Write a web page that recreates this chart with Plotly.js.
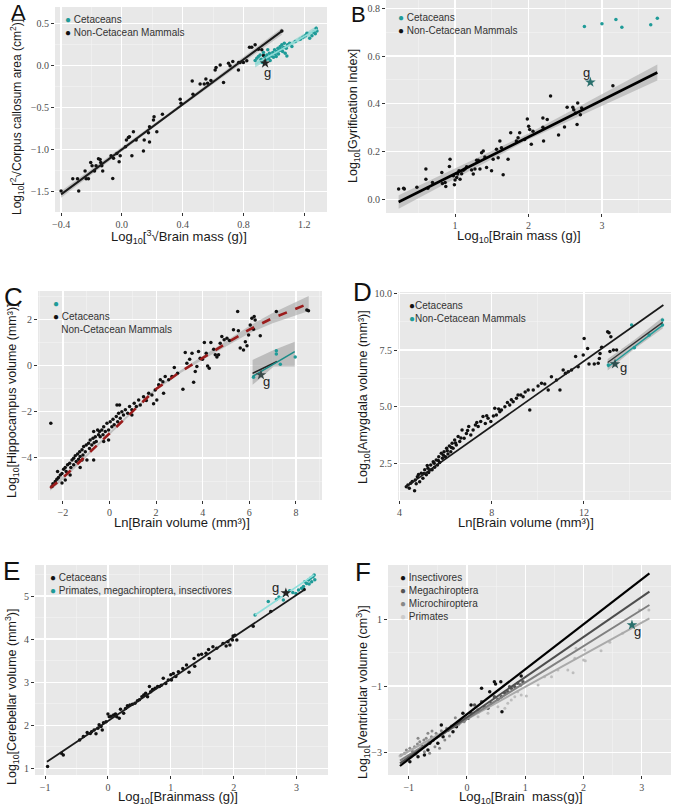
<!DOCTYPE html>
<html>
<head>
<meta charset="utf-8">
<script src="https://cdn.plot.ly/plotly-3.0.1.min.js"></script>
<style>
  html, body { margin: 0; padding: 0; background: #fff; }
  #chart { width: 676px; height: 809px; }
</style>
</head>
<body>
<div id="chart"></div>
<script>
// ---- Panel A: corpus callosum ----
const aNonCet = [[-0.4,-1.49],[-0.323,-1.345],[-0.292,-1.345],[-0.284,-1.49],[-0.242,-1.253],[-0.235,-1.345],[-0.22,-1.345],
  [-0.205,-1.15],[-0.196,-1.19],[-0.18,-1.253],[-0.17,-1.19],[-0.154,-1.106],[-0.139,-1.15],[-0.132,-1.19],[-0.126,-1.253],
  [-0.143,-1.114],[-0.071,-1.07],[-0.06,-1.34],[-0.055,-1.10],[-0.033,-1.043],[-0.018,-1.142],[-0.011,-1.07],[0.024,-0.963],
  [0.03,-0.884],[0.043,-0.852],[0.05,-0.844],[0.066,-1.07],[0.076,-0.784],[0.094,-0.884],[0.142,-1.015],[0.147,-0.884],
  [0.175,-0.796],[0.182,-0.724],[0.182,-0.907],[0.208,-0.645],[0.212,-0.605],[0.23,-0.784],[0.267,-0.577],[0.384,-0.399],
  [0.389,-0.446],[0.463,-0.18],[0.468,-0.339],[0.515,-0.216],[0.542,-0.216],[0.553,-0.156],[0.564,-0.208],[0.586,-0.176],
  [0.614,-0.049],[0.62,-0.021],[0.647,0.011],[0.669,-0.2],[0.702,0.031],[0.712,0.0],[0.73,0.051],[0.767,-0.049],[0.769,0.039],
  [0.778,0.039],[0.8,0.039],[0.822,0.059],[0.84,0.222],[0.855,0.222],[0.877,0.25],[0.899,0.198],[0.921,0.19],[0.932,0.122],
  [0.936,0.063],[1.053,0.413]];
const aCet = [[0.877,0.063],[0.888,0.09],[0.899,0.11],[0.91,0.13],[0.916,0.078],[0.925,0.039],[0.932,0.158],[0.943,0.102],
  [0.949,0.071],[0.954,0.13],[0.96,0.19],[0.965,0.09],[0.971,0.15],[0.976,0.063],[0.982,0.118],[0.993,0.158],[0.998,0.102],
  [1.005,0.19],[1.009,0.142],[1.016,0.11],[1.02,0.17],[1.027,0.21],[1.031,0.142],[1.038,0.182],[1.042,0.23],[1.047,0.198],
  [1.053,0.25],[1.058,0.17],[1.064,0.218],[1.069,0.27],[1.075,0.15],[1.082,0.21],[1.086,0.118],[1.091,0.25],[1.104,0.27],
  [1.119,0.23],[1.141,0.289],[1.174,0.317],[1.192,0.341],[1.207,0.357],[1.218,0.389],[1.236,0.329],[1.251,0.357],
  [1.262,0.4],[1.273,0.381],[1.279,0.448],[1.284,0.413]];
const aStar = [0.943, 0.031];
const aFitX = [-0.4, 1.053], aFitY = [-1.53, 0.413];
const aBandX = [-0.4, 0.3, 1.053], aBandLo = [-1.57, -0.61, 0.37], aBandHi = [-1.49, -0.575, 0.45];
const aCetFitX = [0.877, 1.284], aCetFitY = [0.019, 0.436];
const aCetBandX = [0.877, 1.08, 1.284], aCetBandLo = [-0.02, 0.205, 0.395], aCetBandHi = [0.058, 0.25, 0.478];

// ---- Panel B: gyrification ----
const bNonCet = [[0.232,0.043],[0.30,0.046],[0.309,0.043],[0.48,0.05],[0.603,0.126],[0.603,0.084],[0.63,0.046],[0.693,0.07],
  [0.82,0.112],[0.828,0.066],[0.865,0.07],[0.874,0.053],[0.923,0.137],[0.932,0.167],[0.977,0.098],[0.991,0.06],[1.0,0.08],
  [1.023,0.091],[1.036,0.105],[1.054,0.119],[1.068,0.084],[1.09,0.107],[1.113,0.121],[1.135,0.126],[1.158,0.136],
  [1.226,0.122],[1.248,0.105],[1.271,0.126],[1.294,0.163],[1.316,0.163],[1.339,0.126],[1.361,0.195],[1.384,0.202],
  [1.406,0.177],[1.429,0.133],[1.497,0.119],[1.519,0.167],[1.564,0.209],[1.587,0.174],[1.61,0.244],[1.632,0.216],
  [1.655,0.102],[1.722,0.167],[1.758,0.278],[1.835,0.244],[1.858,0.258],[1.88,0.278],[1.948,0.25],[1.984,0.336],
  [2.002,0.306],[2.016,0.292],[2.038,0.23],[2.061,0.285],[2.196,0.34],[2.196,0.302],[2.205,0.244],[2.255,0.334],
  [2.3,0.433],[2.409,0.269],[2.49,0.303],[2.526,0.385],[2.603,0.385],[2.616,0.375],[2.639,0.361],[2.661,0.313],
  [2.67,0.403],[2.706,0.354],[2.724,0.382],[3.149,0.476]];
const bCet = [[2.761,0.724],[3.0,0.735],[3.19,0.753],[3.271,0.721],[3.664,0.731],[3.754,0.758]];
const bStar = [2.842, 0.49];
const bFitX = [0.232, 3.754], bFitY = [-0.012, 0.531];
const bBandX = [0.232, 2.0, 3.754], bBandLo = [-0.04, 0.25, 0.498], bBandHi = [0.016, 0.275, 0.565];

// ---- Panel C: hippocampus ----
const cNonCet = [[-2.52,-2.5],[-2.47,-5.24],[-2.43,-5.12],[-2.33,-5.02],[-2.26,-4.92],[-2.19,-4.85],[-2.23,-4.59],
  [-2.11,-4.74],[-2.04,-4.67],[-1.97,-4.49],[-1.9,-4.41],[-1.86,-4.59],[-1.8,-4.3],[-1.71,-4.23],[-1.66,-4.41],
  [-1.61,-4.09],[-1.54,-4.01],[-1.54,-4.3],[-1.47,-3.91],[-1.43,-4.16],[-1.37,-3.83],[-1.33,-4.06],[-1.28,-3.73],
  [-1.26,-3.94],[-1.18,-3.65],[-1.14,-3.87],[-1.11,-3.51],[-1.04,-3.73],[-1.0,-3.44],[-0.97,-4.09],[-0.9,-3.37],
  [-0.86,-3.59],[-0.83,-3.22],[-0.76,-3.44],[-0.71,-3.15],[-0.68,-4.09],[-0.66,-3.34],[-0.61,-3.08],[-0.57,-3.29],
  [-0.51,-2.79],[-0.47,-3.0],[-0.43,-2.86],[-0.4,-3.08],[-0.33,-2.79],[-0.28,-3.0],[-0.25,-2.65],[-0.18,-2.86],
  [-0.11,-2.5],[-0.04,-2.79],[0.03,-2.43],[0.1,-2.65],[0.15,-2.33],[0.2,-2.57],[0.29,-2.21],[0.35,-2.43],[0.39,-2.07],
  [0.46,-2.28],[0.53,-2.0],[0.6,-2.14],[0.68,-1.92],[0.78,-2.07],[0.86,-1.78],[0.96,-1.92],[1.06,-1.63],[1.15,-1.78],
  [1.25,-1.49],[1.32,-1.71],[1.46,-1.35],[1.58,-1.52],[1.68,-1.2],[1.82,-1.28],[1.96,-1.06],[2.03,-1.49],[0.32,-1.71],
  [0.43,-1.71],[0.96,-2.14],[-0.68,-2.86],[-1.18,-4.09],[1.89,-1.66],[-0.25,-3.29],[-0.04,-3.22],[-1.26,-4.41],
  [-1.69,-4.74],[-1.9,-4.95],[-2.04,-5.09],
  [2.11,-0.84],[2.18,-0.62],[2.29,-0.7],[2.32,-1.2],[2.39,-0.48],[2.54,-0.62],[2.68,-0.48],
  [2.78,-0.09],[2.92,-0.34],[3.15,-1.03],[3.25,0.56],[3.32,0.1],[3.44,0.27],[3.54,0.53],[3.61,-0.73],[3.68,-0.26],
  [3.75,-0.05],[3.82,0.6],[3.89,0.31],[3.99,0.27],[4.07,0.99],[4.15,0.53],[4.21,-0.02],[4.28,-0.12],[4.35,0.99],
  [4.47,0.7],[4.54,0.46],[4.61,0.36],[4.68,0.46],[4.75,0.96],[4.82,1.25],[4.92,1.11],[5.04,1.18],[5.15,1.08],
  [5.32,1.54],[5.5,2.33],[5.53,1.5],[5.61,0.75],[5.75,0.67],[5.83,1.03],[5.9,0.85],[5.97,1.32],[6.04,1.75],[6.11,2.04],
  [6.18,1.57],[6.21,2.12],[6.25,1.97],[6.47,1.28],[7.16,2.33],[8.47,2.4],[8.54,2.37]];
const cCet = [[6.18,-0.51],[7.16,0.64],[7.16,0.5],[7.33,0.05],[7.97,0.36]];
const cStar = [6.5, -0.41];
const cFitX = [-2.55,-2,-1,0,1,2,3,4,5,6,7,8,8.55];
const cFitY = [-5.3,-4.86,-3.9,-2.94,-1.98,-1.02,-0.3,0.33,0.95,1.55,2.05,2.45,2.68];
const cBandLo = [-5.42,-4.94,-3.95,-2.99,-2.03,-1.07,-0.36,0.25,0.83,1.39,1.83,2.17,2.36];
const cBandHi = [-5.18,-4.78,-3.85,-2.89,-1.93,-0.97,-0.24,0.41,1.07,1.71,2.27,2.73,3.0];
const cCetFitX = [6.14, 7.95], cCetFitY = [-0.48, 0.6];
const cSubFitX = [6.14, 7.19], cSubFitY = [-0.34, 0.17];
const cCetBandX = [6.14, 7.05, 7.95], cCetBandLo = [-0.84, -0.05, -0.05], cCetBandHi = [0.24, 0.67, 1.03];

// ---- Panel D: amygdala ----
const dMain = [[4.29,1.47],[4.36,1.54],[4.48,1.62],[4.65,1.29],[4.68,1.76],[4.77,1.91],[4.87,1.69],[4.94,2.06],[5.01,1.84],
  [5.09,2.21],[5.16,1.99],[5.23,2.28],[5.26,2.09],[5.35,2.43],[5.41,2.21],[5.46,2.57],[5.52,2.32],[5.59,2.65],[5.64,2.43],
  [5.70,2.79],[5.74,2.53],[5.81,2.94],[5.86,2.72],[5.93,3.01],[5.99,2.79],[6.04,3.16],[6.1,2.91],[6.16,3.26],[6.22,3.01],
  [6.28,3.38],[6.32,3.16],[6.39,3.53],[6.46,3.31],[6.54,3.68],[6.61,3.46],[6.71,3.97],[6.8,3.6],[6.9,3.82],[7.0,4.12],
  [7.09,3.75],[7.19,3.97],[7.29,4.19],[7.41,4.12],[7.52,4.34],[7.62,4.56],[7.72,4.26],[7.84,4.49],[7.96,4.34],[8.07,4.59],
  [8.13,4.93],[8.2,4.63],[8.35,4.78],[8.42,4.85],[8.57,5.0],[8.68,5.18],[8.78,5.07],[8.93,5.22],[9.07,5.37],[9.14,5.51],
  [9.26,5.51],[9.36,5.44],[9.58,5.74],[9.65,4.85],[9.8,5.74],[10.01,5.91],[10.16,6.03],[10.3,6.0],[10.45,5.74],
  [10.59,6.32],[10.81,6.18],[10.96,5.74],[11.1,6.62],[11.2,6.47],[11.32,6.54],[11.46,6.62],[11.64,7.21],[11.75,6.76],
  [11.97,7.28],[12.01,8.01],[12.16,7.57],[12.22,6.88],[12.45,6.88],[12.62,6.91],[12.67,7.13],[12.7,7.35],[12.77,7.62],
  [13.03,8.31],[13.09,8.26],[13.13,7.43],[13.17,8.09],[13.28,7.5],[13.42,7.5],
  [4.42,1.4],[4.55,1.7],[4.72,1.6],[4.82,2.0],[5.05,2.05],[5.2,2.4],[5.32,2.2],[5.5,2.5],[5.68,2.62],[5.9,2.85],
  [6.07,3.05],[6.25,3.2],[6.43,3.4],[6.66,3.62],[6.95,3.95],[7.35,4.3],[7.78,4.6],[8.3,4.9],[8.85,5.3],[9.45,5.65]];
const dCet = [[13.06,6.84],[14.07,8.6],[14.19,7.6],[14.83,8.16],[15.41,8.6],[15.41,8.82]];
const dStar = [13.35, 6.88];
const dFitX = [4.29, 15.45], dFitY = [1.47, 9.49];
const dCetFitX = [13.03, 15.42], dCetFitY = [6.75, 8.6];
const dSubFitX = [13.03, 15.42], dSubFitY = [6.95, 8.72];
const dCetBandX = [13.03, 14.2, 15.42], dCetBandLo = [6.6, 7.55, 8.45], dCetBandHi = [7.1, 7.95, 8.95];

// ---- Panel E: cerebellum ----
const eMain = [[-0.96,1.04],[-0.74,1.35],[-0.71,1.31],[-0.45,1.66],[-0.39,1.74],[-0.33,1.83],[-0.28,1.81],[-0.26,1.85],
  [-0.22,1.89],[-0.19,1.8],[-0.16,1.93],[-0.14,2.01],[-0.11,1.97],[-0.09,1.89],[-0.07,2.06],[-0.03,2.08],[0.0,2.26],
  [0.02,2.2],[0.05,2.21],[0.09,2.24],[0.12,2.26],[0.14,2.2],[0.18,2.16],[0.2,2.37],[0.25,2.28],[0.28,2.39],[0.31,2.45],
  [0.35,2.47],[0.39,2.49],[0.43,2.51],[0.47,2.57],[0.5,2.59],[0.54,2.66],[0.57,2.7],[0.6,2.74],[0.63,2.66],[0.66,2.9],
  [0.68,2.78],[0.71,2.83],[0.75,2.86],[0.79,2.9],[0.82,2.9],[0.85,2.93],[0.88,3.09],[0.92,2.97],[0.96,3.05],[1.0,3.17],
  [1.01,3.05],[1.04,3.2],[1.08,3.13],[1.12,3.24],[1.19,3.32],[1.25,3.4],[1.29,3.23],[1.37,3.55],[1.38,3.37],[1.44,3.63],
  [1.49,3.65],[1.56,3.67],[1.6,3.76],[1.61,3.55],[1.67,3.82],[1.73,3.79],[1.83,3.9],[1.88,3.84],[1.91,3.94],[1.94,3.86],
  [1.98,3.98],[1.99,4.07],[2.02,4.09],[2.05,3.98],[2.31,4.3],[2.59,4.64],[3.12,5.15]];
const eCet = [[2.34,4.56],[2.55,4.87],[2.68,4.92],[2.72,4.98],[2.79,4.91],[2.85,5.08],[2.89,5.12],[2.94,5.08],[2.99,5.06],
  [3.03,5.14],[3.08,5.18],[3.11,5.22],[3.13,5.33],[3.16,5.29],[3.19,5.37],[3.2,5.28],[3.22,5.41],[3.24,5.33],[3.26,5.45],
  [3.28,5.49],[3.29,5.38]];
const eStar = [2.83, 5.07];
const eFitX = [-0.97, 3.13], eFitY = [1.15, 5.15];
const eCetFitX = [2.34, 3.28], eCetFitY = [4.56, 5.49];

// ---- Panel F: ventricles ----
const fIns = [[-0.98,-3.27],[-0.84,-3.12],[-0.75,-2.82],[-0.67,-2.92],[-0.58,-2.62],[-0.5,-2.72],[-0.41,-2.52],[-0.33,-2.32],
  [-0.24,-2.37],[-0.18,-2.22],[-0.13,-2.07],[-0.07,-1.82],[0.02,-1.97],[0.07,-1.57],[0.25,-1.07],[0.39,-1.17],[0.47,-0.87],
  [0.49,-0.94],[0.58,-0.87],[0.6,-1.77],[0.93,-0.7],[-0.44,-2.17],[-0.9,-3.02],[-0.73,-3.07],[-0.64,-2.72]];
const fMeg = [[-0.15,-2.12],[-0.04,-2.02],[0.07,-1.82],[0.19,-1.72],[0.3,-1.62],[0.36,-1.67],[0.42,-1.52],[0.53,-1.4],
  [0.59,-1.32],[0.65,-1.22],[0.7,-1.17],[0.76,-1.07],[0.82,-1.02],[0.87,-0.92],[0.92,-0.97],[0.96,-0.87],[0.13,-1.57],
  [0.25,-1.47],[0.47,-1.32],[0.73,-1.02]];
const fMic = [[-1.13,-3.07],[-1.07,-3.02],[-1.04,-2.92],[-0.98,-2.87],[-0.94,-2.94],[-0.9,-2.82],[-0.85,-2.74],[-0.81,-2.67],
  [-0.77,-2.8],[-0.74,-2.62],[-0.7,-2.57],[-0.66,-2.67],[-0.61,-2.52],[-0.57,-2.6],[-0.53,-2.42],[-0.49,-2.5],[-0.44,-2.34],
  [-0.39,-2.4],[-0.35,-2.27],[-0.31,-2.32],[-0.27,-2.2],[-0.22,-2.22],[-0.18,-2.12],[-0.14,-2.15],[-0.1,-2.02],[-0.05,-2.07],
  [-0.01,-1.97],[0.05,-1.92],[-0.73,-2.97],[-0.64,-3.02],[-0.55,-2.82],[-0.47,-2.87],[-0.38,-2.62],[-0.84,-2.57],[-0.67,-2.42],
  [-1.0,-3.15],[-0.88,-3.05],[-0.6,-2.35],[-0.3,-2.5],[-0.2,-1.95],[0.1,-1.85],[0.2,-1.78]];
const fPri = [[-1.15,-3.1],[0.19,-1.92],[0.36,-1.82],[0.53,-1.62],[0.65,-1.67],[0.7,-1.52],[0.76,-1.42],[0.82,-1.32],
  [0.87,-1.17],[0.93,-1.27],[1.02,-1.3],[1.22,-0.97],[1.33,-0.72],[1.45,-0.72],[1.56,-0.52],[1.73,-0.52],[1.82,-0.6],
  [1.85,-0.17],[1.87,0.13],[2.0,-0.22],[2.03,-0.24],[2.02,0.08],[2.3,0.06],[2.45,0.31],[2.67,0.58],[2.96,1.28],[3.12,1.28]];
const fStar = [2.83, 0.83];
const fLineX = [-1.15, 3.13];
const fInsY = [-3.4, 2.38], fMegY = [-3.32, 1.83], fMicY = [-3.24, 1.43], fPriY = [-3.1, 1.03];

// ---- styling ----
const TEAL = '#1f9b98';
const tickFont = {family: 'Liberation Serif, serif', size: 10, color: '#4d4d4d'};
const titleFont = {family: 'Liberation Sans, Arial, sans-serif', size: 13, color: '#1a1a1a'};
const W = 676, H = 809;

function pts(data, n, color, size) {
  return {type: 'scatter', mode: 'markers', x: data.map(p => p[0]), y: data.map(p => p[1]),
    xaxis: 'x' + n, yaxis: 'y' + n, marker: {color: color, size: size || 3.5}, hoverinfo: 'skip'};
}
function line(xs, ys, n, color, width, dash) {
  return {type: 'scatter', mode: 'lines', x: xs, y: ys, xaxis: 'x' + n, yaxis: 'y' + n,
    line: {color: color, width: width || 2, dash: dash || 'solid'}, hoverinfo: 'skip'};
}
function band(xs, lo, hi, n, color) {
  return {type: 'scatter', mode: 'lines', x: xs.concat(xs.slice().reverse()),
    y: hi.concat(lo.slice().reverse()), xaxis: 'x' + n, yaxis: 'y' + n,
    fill: 'toself', fillcolor: color, line: {width: 0}, hoverinfo: 'skip'};
}
function star(p, n, color) {
  return {type: 'scatter', mode: 'markers', x: [p[0]], y: [p[1]], xaxis: 'x' + n, yaxis: 'y' + n,
    marker: {symbol: 'star', size: 8, color: color}, hoverinfo: 'skip'};
}

function axis(px, range, tick0, dtick, fmt, anchor, horiz) {
  const dom = horiz ? [px[0] / W, px[1] / W] : [1 - px[1] / H, 1 - px[0] / H];
  return {domain: dom, range: range, anchor: anchor, tick0: tick0, dtick: dtick, tickformat: fmt,
    showgrid: true, gridcolor: '#ffffff', gridwidth: 1.2, zeroline: false, showline: false,
    ticks: 'outside', ticklen: 3, tickcolor: '#333', tickwidth: 1, tickfont: tickFont,
    minor: {tick0: tick0, dtick: dtick / 2, showgrid: true, gridcolor: '#f4f4f4', gridwidth: 0.6, ticks: ''},
    automargin: false};
}

const traces = [
  // A
  band(aBandX, aBandLo, aBandHi, '', 'rgba(150,150,150,0.45)'),
  band(aCetBandX, aCetBandLo, aCetBandHi, '', 'rgba(120,205,200,0.55)'),
  pts(aNonCet, '', '#111'), pts(aCet, '', TEAL),
  line(aFitX, aFitY, '', '#1a1a1a', 2), line(aCetFitX, aCetFitY, '', '#8edbd6', 1.6),
  star(aStar, '', '#222'),
  // B
  band(bBandX, bBandLo, bBandHi, '2', 'rgba(170,170,170,0.6)'),
  pts(bNonCet, '2', '#111'), pts(bCet, '2', TEAL),
  line(bFitX, bFitY, '2', '#000', 2.6),
  star(bStar, '2', '#2a6f6c'),
  // C
  band(cFitX, cBandLo, cBandHi, '3', 'rgba(165,165,165,0.6)'),
  band(cCetBandX, cCetBandLo, cCetBandHi, '3', 'rgba(160,160,160,0.6)'),
  pts(cNonCet, '3', '#111'), pts(cCet, '3', TEAL),
  line(cFitX, cFitY, '3', '#9b1c1c', 2.6, 'dash'),
  line(cSubFitX, cSubFitY, '3', '#222', 1.5), line(cCetFitX, cCetFitY, '3', '#1c8c88', 1.6),
  star(cStar, '3', '#3a4a4a'),
  // D
  band(dCetBandX, dCetBandLo, dCetBandHi, '4', 'rgba(160,160,160,0.6)'),
  pts(dMain, '4', '#111'), pts(dCet, '4', TEAL),
  line(dFitX, dFitY, '4', '#1a1a1a', 1.8),
  line(dSubFitX, dSubFitY, '4', '#333', 1.3), line(dCetFitX, dCetFitY, '4', '#1f9b98', 1.4),
  star(dStar, '4', '#2f4f4f'),
  // E
  pts(eMain, '5', '#111'), pts(eCet, '5', TEAL),
  line(eFitX, eFitY, '5', '#1a1a1a', 1.8), line(eCetFitX, eCetFitY, '5', '#8fe0dc', 1.6),
  star(eStar, '5', '#222'),
  // F
  pts(fPri, '6', '#bdbdbd', 3), pts(fMic, '6', '#888', 3), pts(fMeg, '6', '#555', 3.5), pts(fIns, '6', '#111', 3.5),
  line(fLineX, fPriY, '6', '#aaaaaa', 2), line(fLineX, fMicY, '6', '#808080', 2),
  line(fLineX, fMegY, '6', '#4d4d4d', 2), line(fLineX, fInsY, '6', '#000', 2.2),
  star(fStar, '6', '#2a6f6c')
];
traces.forEach(t => { t.showlegend = false; });

const layout = {
  width: W, height: H, margin: {l: 0, r: 0, t: 0, b: 0},
  paper_bgcolor: '#fff', plot_bgcolor: '#e8e8e8', showlegend: false,
  xaxis:  axis([55, 327], [-0.44, 1.35], 0, 0.4, '.1f', 'y', true),
  yaxis:  axis([7, 212], [-1.74, 0.70], 0, 0.5, '.1f', 'x'),
  xaxis2: axis([386, 671], [0.06, 3.94], 0, 1, 'd', 'y2', true),
  yaxis2: axis([0, 213], [-0.058, 0.835], 0, 0.2, '.1f', 'x2'),
  xaxis3: axis([38, 322], [-3.07, 9.12], 0, 2, 'd', 'y3', true),
  yaxis3: axis([291, 500], [-5.82, 3.22], 0, 2, 'd', 'x3'),
  xaxis4: axis([398, 671], [3.93, 15.78], 0, 4, 'd', 'y4', true),
  yaxis4: axis([292, 500], [0.88, 10.06], 0, 2.5, '.1f', 'x4'),
  xaxis5: axis([35, 328], [-1.16, 3.50], 0, 1, 'd', 'y5', true),
  yaxis5: axis([565, 775], [0.845, 5.72], 0, 1, 'd', 'x5'),
  xaxis6: axis([388, 671], [-1.355, 3.5], 1, 1, 'd', 'y6', true),
  yaxis6: axis([565, 775], [-3.67, 2.63], 1, 2, 'd', 'x6'),
  annotations: [],
  font: {family: 'Liberation Sans, Arial, sans-serif'}
};

function note(text, px, py, extra) {
  layout.annotations.push(Object.assign({text: text, xref: 'paper', yref: 'paper', x: px / W, y: 1 - py / H,
    xanchor: 'center', yanchor: 'middle', showarrow: false}, extra));
}

// axis titles
const xTitles = [
  ['Log<sub>10</sub>[<sup>3</sup>√Brain mass (g)]', 179, 237],
  ['Log<sub>10</sub>[Brain mass (g)]', 519, 236],
  ['Ln[Brain volume (mm³)]', 182, 522],
  ['Ln[Brain volume (mm³)]', 526, 522],
  ['Log<sub>10</sub>[Brainmass (g)]', 178, 797],
  ['Log<sub>10</sub>[Brain  mass(g)]', 521, 797]
];
const yTitles = [
  ['Log<sub>10</sub>[<sup>2</sup>√Corpus callosum area (cm<sup>2</sup>)]', 17, 117, 12],
  ['Log<sub>10</sub>[Gyrification Index]', 354, 116, 12.5],
  ['Log<sub>10</sub>[Hippocampus volume (mm³)]', 13, 401, 12.5],
  ['Log<sub>10</sub>[Amygdala volume (mm³)]', 364, 397, 12.5],
  ['Log<sub>10</sub>[Cerebellar volume (mm<sup>3</sup>)]', 12, 697, 12.5],
  ['Log<sub>10</sub>[Ventricular volume (cm<sup>3</sup>)]', 363, 692, 12.5]
];
xTitles.forEach(t => note(t[0], t[1], t[2], {font: titleFont}));
yTitles.forEach(t => note(t[0], t[1], t[2], {textangle: -90, font: Object.assign({}, titleFont, {size: t[3]})}));

// panel letters
const letters = [['A', 18, 13, 22], ['B', 358, 14, 22], ['C', 13, 297, 26], ['D', 362, 292, 26], ['E', 11, 571, 26], ['F', 363, 572, 26]];
letters.forEach(l => note(l[0], l[1], l[2], {font: {size: l[3], color: '#111', family: 'Liberation Sans, Arial'}}));

// legends drawn as text keys
const dot = c => `<span style="color:${c}">●</span>`;
const legends = [
  [63, 12, `${dot(TEAL)} Cetaceans<br>${dot('#111')} Non-Cetacean Mammals`],
  [396, 10, `${dot(TEAL)} Cetaceans<br>${dot('#111')} Non-Cetacean Mammals`],
  [51, 296, `${dot(TEAL)}<br>${dot('#111')} Cetaceans<br>&nbsp;&nbsp;&nbsp;Non-Cetacean Mammals`],
  [407, 298, `${dot('#111')}Cetaceans<br>${dot(TEAL)}Non-Cetacean Mammals`],
  [48, 570, `${dot('#111')} Cetaceans<br>${dot(TEAL)} Primates, megachiroptera, insectivores`],
  [398, 570, `${dot('#111')} Insectivores<br>${dot('#555')} Megachiroptera<br>${dot('#888')} Microchiroptera<br>${dot('#ccc')} Primates`]
];
legends.forEach(l => layout.annotations.push({text: l[2], xref: 'paper', yref: 'paper', x: l[0] / W, y: 1 - l[1] / H,
  xanchor: 'left', yanchor: 'top', align: 'left', showarrow: false, font: {size: 10, color: '#333'}}));

// "g" labels next to the stars
const gl = [['', aStar, 2, -9], ['2', bStar, -4, 10], ['3', cStar, 6, -7], ['4', dStar, 8, -3], ['5', eStar, -10, 6], ['6', fStar, 6, -6]];
gl.forEach(g => layout.annotations.push({text: 'g', xref: 'x' + g[0], yref: 'y' + g[0], x: g[1][0], y: g[1][1],
  xshift: g[2], yshift: g[3], showarrow: false, font: {size: 13, color: '#222'}}));

Plotly.newPlot('chart', traces, layout, {displayModeBar: false, staticPlot: true});
</script>
</body>
</html>
